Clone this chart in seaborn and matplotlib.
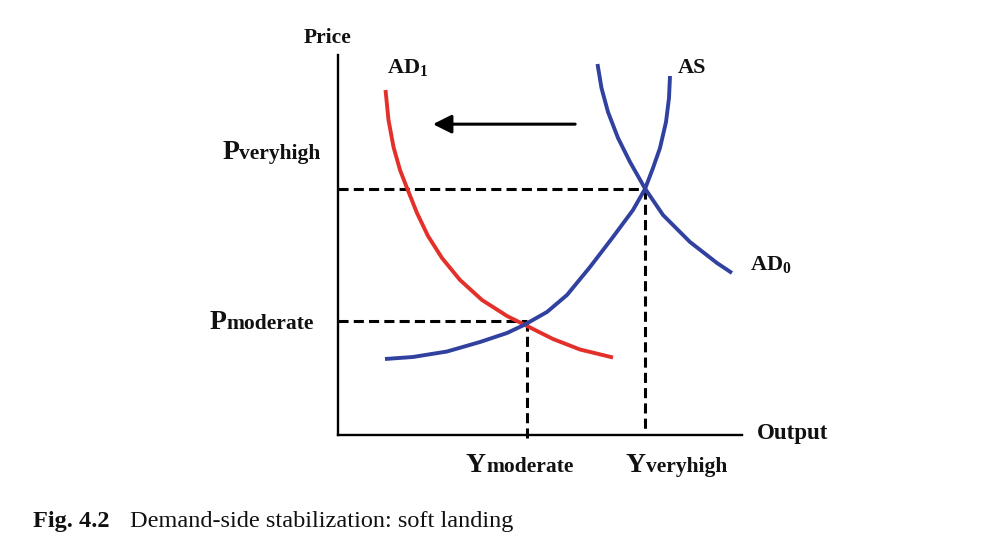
import matplotlib
matplotlib.use("Agg")
import matplotlib.pyplot as plt
import pandas as pd
import seaborn as sns

# ---- data (Output index 0-100, Price index 0-100) ----
ad1_output = [11.76, 12.50, 13.74, 15.35, 17.08, 19.55, 22.28, 25.74, 30.20,
              35.64, 41.83, 46.29, 53.22, 59.90, 68.07]
ad1_price = [90.79, 82.89, 75.79, 69.74, 65.00, 58.42, 52.37, 46.58, 40.79,
             35.53, 31.32, 28.95, 25.26, 22.50, 20.39]
as_output = [11.63, 18.56, 26.98, 35.15, 41.83, 46.04, 51.73, 56.68, 62.38,
             68.07, 73.02, 75.99, 77.97, 79.70, 81.19, 81.93, 82.18]
as_price = [20.00, 20.53, 21.97, 24.47, 26.84, 28.95, 32.37, 36.84, 44.21,
            52.11, 59.21, 64.74, 70.26, 75.53, 82.37, 88.68, 94.47]
ad0_output = [64.23, 65.22, 66.83, 69.31, 72.28, 75.99, 80.45, 87.13, 93.81, 97.52]
ad0_price = [97.63, 91.32, 85.00, 78.16, 71.84, 64.87, 57.89, 50.79, 45.26, 42.63]
curve_names = ["AD1", "AS", "AD0"]
y_moderate, p_moderate = 46.7, 29.9
y_veryhigh, p_veryhigh = 76.1, 64.7
shift_from, shift_to, shift_level = 58.7, 23.5, 81.8
caption_bold = "Fig. 4.2"
caption_text = "Demand-side stabilization: soft landing"

RED = "#E3302A"
BLUE = "#3041A0"

sns.set_theme(style="white")
plt.rcParams["font.family"] = ["Liberation Serif", "DejaVu Serif"]
plt.rcParams["mathtext.fontset"] = "custom"
plt.rcParams["mathtext.rm"] = "Liberation Serif"
plt.rcParams["mathtext.bf"] = "Liberation Serif:bold"

df = pd.concat([
    pd.DataFrame({"output": ad1_output, "price": ad1_price, "curve": curve_names[0]}),
    pd.DataFrame({"output": as_output, "price": as_price, "curve": curve_names[1]}),
    pd.DataFrame({"output": ad0_output, "price": ad0_price, "curve": curve_names[2]}),
], ignore_index=True)

fig = plt.figure(figsize=(10, 5.55), dpi=100)
fig.patch.set_facecolor("white")
ax = fig.add_axes([0.338, 1 - 435 / 555, 0.404, 380 / 555])

sns.lineplot(data=df, x="output", y="price", hue="curve",
             palette={"AD1": RED, "AS": BLUE, "AD0": BLUE},
             sort=False, estimator=None, legend=False, lw=2.8, ax=ax)
for ln in ax.lines:
    ln.set_clip_on(False)
    ln.set_solid_capstyle("butt")
    ln.set_solid_joinstyle("round")
    ln.set_zorder(2)

dash = (0, (3.3, 1.7))
kw = dict(color="black", lw=2.2, ls=dash, clip_on=False, zorder=1)
ax.plot([0, y_veryhigh], [p_veryhigh, p_veryhigh], **kw)
ax.plot([y_veryhigh, y_veryhigh], [p_veryhigh, 1.5], **kw)
ax.plot([0, y_moderate], [p_moderate, p_moderate], **kw)
ax.plot([y_moderate, y_moderate], [p_moderate, -1.0], **kw)

ax.annotate("", xy=(shift_to, shift_level), xytext=(shift_from, shift_level),
            arrowprops=dict(arrowstyle="-|>,head_length=0.7,head_width=0.35",
                            mutation_scale=16, lw=2.2, color="black",
                            shrinkA=0, shrinkB=0))

ax.set_xlim(0, 100)
ax.set_ylim(0, 100)
ax.set_xticks([])
ax.set_yticks([])
ax.set_xlabel("")
ax.set_ylabel("")
for s in ["top", "right"]:
    ax.spines[s].set_visible(False)
for s in ["left", "bottom"]:
    ax.spines[s].set_color("black")
    ax.spines[s].set_linewidth(1.7)
ax.set_facecolor("none")


def fp(x, y):
    return x / 1000, 1 - y / 555


def ftext(x, y, s, **k):
    k.setdefault("va", "baseline")
    k.setdefault("color", "#111111")
    fig.text(*fp(x, y), s, **k)


ftext(328, 43, "Price", ha="center", fontsize=15.5, fontweight="bold")
ftext(757, 439, "Output", ha="left", fontsize=16.5, fontweight="bold")
ftext(387, 73, r"$\mathbf{AD}_{\mathbf{1}}$", ha="left", fontsize=16)
ftext(678, 73, "AS", ha="left", fontsize=16, fontweight="bold")
ftext(750, 270, r"$\mathbf{AD}_{\mathbf{0}}$", ha="left", fontsize=16)

big, small = 20, 15.5
for split, base, word in [(239, 159, "veryhigh"), (226, 329, "moderate")]:
    ftext(split, base, "P", ha="right", fontsize=big, fontweight="bold")
    ftext(split, base, word, ha="left", fontsize=small, fontweight="bold")
for split, base, word in [(486, 472, "moderate"), (646, 472, "veryhigh")]:
    ftext(split, base, "Y", ha="right", fontsize=big, fontweight="bold")
    ftext(split, base, word, ha="left", fontsize=small, fontweight="bold")

ftext(33, 527, caption_bold, ha="left", fontsize=17.5, fontweight="bold")
ftext(130, 527, caption_text, ha="left", fontsize=17.5)

fig.savefig("out.png", dpi=100, facecolor="white")
